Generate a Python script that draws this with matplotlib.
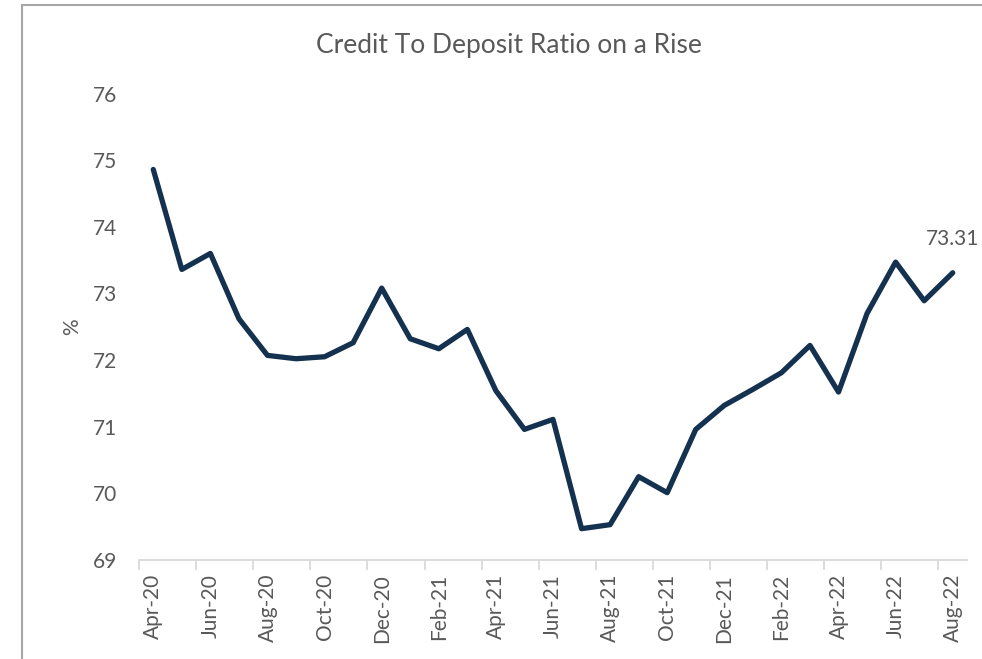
import numpy as np
import matplotlib.pyplot as plt
from matplotlib.patches import Rectangle

months = ['Apr-20', 'May-20', 'Jun-20', 'Jul-20', 'Aug-20', 'Sep-20', 'Oct-20',
          'Nov-20', 'Dec-20', 'Jan-21', 'Feb-21', 'Mar-21', 'Apr-21', 'May-21',
          'Jun-21', 'Jul-21', 'Aug-21', 'Sep-21', 'Oct-21', 'Nov-21', 'Dec-21',
          'Jan-22', 'Feb-22', 'Mar-22', 'Apr-22', 'May-22', 'Jun-22', 'Jul-22',
          'Aug-22']
ratio = [74.86, 73.36, 73.60, 72.62, 72.07, 72.02, 72.05, 72.26, 73.08,
         72.32, 72.17, 72.46, 71.54, 70.96, 71.11, 69.47, 69.53, 70.25,
         70.01, 70.96, 71.32, 71.56, 71.81, 72.22, 71.52, 72.70, 73.47,
         72.89, 73.31]
y_ticks = [69, 70, 71, 72, 73, 74, 75, 76]

plt.rcParams['font.family'] = ['Lato', 'DejaVu Sans']
txt = '#595959'

fig = plt.figure(figsize=(9.82, 6.59), dpi=100)
ax = fig.add_axes([139 / 982, 1 - 560 / 659, (967 - 139) / 982, (560 - 93.5) / 659])

x = np.arange(len(months))
ax.plot(x, ratio, color='#14324f', lw=3.8, solid_joinstyle='round',
        solid_capstyle='round')
ax.annotate('{:.2f}'.format(ratio[-1]), (x[-1], ratio[-1]), xytext=(0, 24),
            textcoords='offset points', ha='center', va='center',
            fontsize=15, color=txt)

ax.set_xlim(-0.5, len(months) - 0.5)
ax.set_ylim(69, 76)
ax.set_yticks(y_ticks)
ax.tick_params(axis='y', length=0, pad=16, labelsize=15, labelcolor=txt)

# ticks between categories, labels on every second month
ax.set_xticks(np.arange(-0.5, len(months) - 1, 2))
ax.set_xticklabels([])
ax.set_xticks(x[::2], minor=True)
ax.set_xticklabels(months[::2], minor=True, rotation=90, fontsize=15,
                   color=txt)
ax.tick_params(axis='x', which='major', length=7, color='#d9d9d9', width=1.3)
ax.tick_params(axis='x', which='minor', length=0, pad=10)

for s in ['top', 'right', 'left']:
    ax.spines[s].set_visible(False)
ax.spines['bottom'].set_color('#d9d9d9')
ax.spines['bottom'].set_linewidth(1.3)

ax.set_ylabel('%', fontsize=15, color=txt)
ax.yaxis.set_label_coords(-0.069, 0.5)
fig.text(509 / 982, 1 - 45 / 659, 'Credit To Deposit Ratio on a Rise',
         ha='center', va='center', fontsize=19, color=txt)

fig.patches.append(Rectangle((22 / 982, -0.05), 1.0, 1.05 - 4.5 / 659,
                             transform=fig.transFigure, fill=False,
                             edgecolor='#a6a6a6', lw=1.5))

fig.savefig('out.png', dpi=100)
